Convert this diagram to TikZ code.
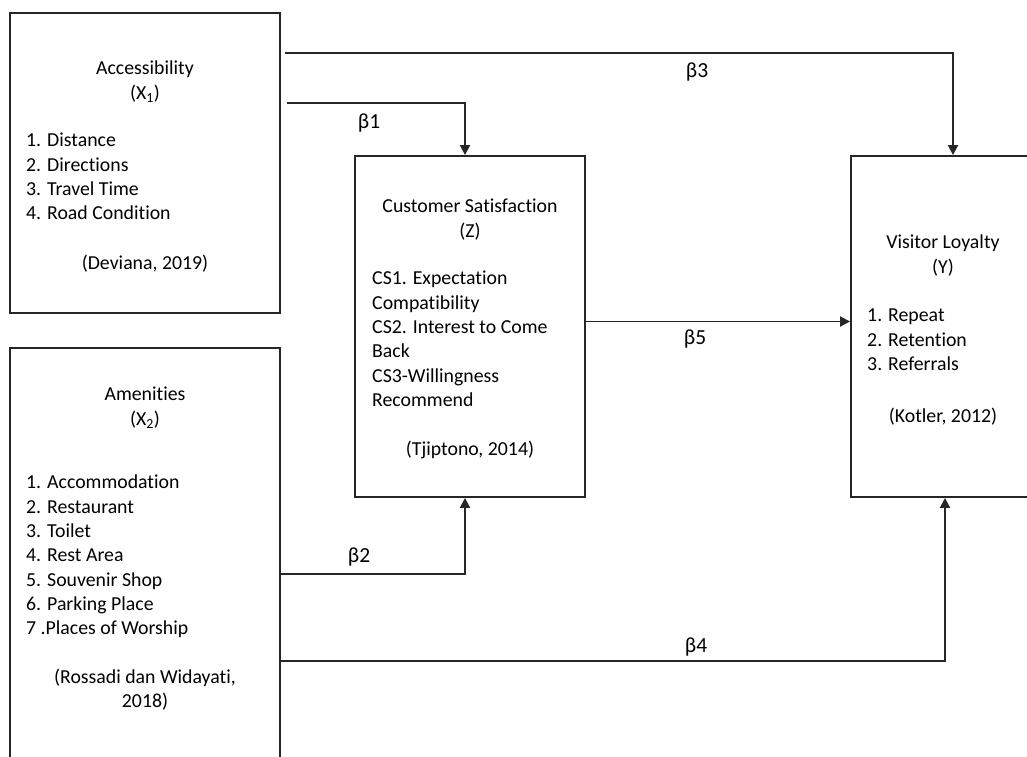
\documentclass[tikz,border=0pt]{standalone}
\usepackage{fontspec}
\setmainfont{Carlito}[Ligatures=NoCommon]
\usetikzlibrary{arrows.meta}
\newcommand{\bodyfont}{\fontsize{19.8}{24.3}\selectfont}
\tikzset{
  var box/.style={
    draw=black!85,
    line width=1.9pt,
    inner sep=0pt
  },
  path arrow/.style={
    -{Triangle[length=10pt, width=10pt]},
    line width=1.9pt,
    draw=black!85
  },
  box title/.style={
    align=center,
    anchor=north,
    inner sep=0pt,
    font=\bodyfont
  },
  item list/.style={
    align=left,
    anchor=north west,
    inner sep=0pt,
    font=\bodyfont
  },
  coef label/.style={
    inner sep=0pt,
    font=\fontsize{21.5}{24}\selectfont
  }
}

\begin{document}
\begin{tikzpicture}[x=1pt, y=-1pt]

  \useasboundingbox (0,0) rectangle (1027,756);
  \clip (0,0) rectangle (1027,756);

  %% ---- Accessibility (X1) ----
  \node[var box, minimum width=270pt, minimum height=300pt] (acc) at (145,163) {};
  \node[box title] (acc title) at (145,61) {Accessibility\\(X\textsubscript{1})};
  \node[item list] (acc list) at (26,133)
      {1. Distance\\2. Directions\\3. Travel Time\\4. Road Condition};
  \node[box title] (acc cite) at (145,255) {(Deviana, 2019)};

  %% ---- Amenities (X2), runs past the bottom edge ----
  \node[var box, minimum width=270pt, minimum height=452pt] (amen) at (145,574) {};
  \node[box title] (amen title) at (145,387) {Amenities\\(X\textsubscript{2})};
  \node[item list] (amen list) at (26,475)
      {1. Accommodation\\2. Restaurant\\3. Toilet\\4. Rest Area\\5. Souvenir Shop\\6. Parking Place\\7 .Places of Worship};
  \node[box title] (amen cite) at (145,669) {(Rossadi dan Widayati,\\2018)};

  %% ---- Customer Satisfaction (Z) ----
  \node[var box, minimum width=230pt, minimum height=341pt] (cs) at (470,326.5) {};
  \node[box title] (cs title) at (470,199) {Customer Satisfaction\\(Z)};
  \node[item list] (cs list) at (372,271)
      {CS1. Expectation\\Compatibility\\CS2. Interest to Come\\Back\\CS3-Willingness\\Recommend};
  \node[box title] (cs cite) at (470,441) {(Tjiptono, 2014)};

  %% ---- Visitor Loyalty (Y), cut by the right edge ----
  \node[var box, minimum width=184pt, minimum height=341pt] (vl) at (943,326.5) {};
  \node[box title] (vl title) at (943,235) {Visitor Loyalty\\(Y)};
  \node[item list] (vl list) at (867,309) {1. Repeat\\2. Retention\\3. Referrals};
  \node[box title] (vl cite) at (943,408) {(Kotler, 2012)};

  %% ---- paths ----
  \coordinate (b3 start) at (285,53);
  \coordinate (b1 start) at (287,103);
  \coordinate (b4 start) at (280,661);

  \draw[path arrow] (b3 start) -| ([xshift=10pt]vl.north);
  \draw[path arrow] (b1 start) -| ([xshift=-5pt]cs.north);
  \draw[path arrow] (amen.east) -| ([xshift=-5pt]cs.south);
  \draw[path arrow] (b4 start) -| ([xshift=2pt]vl.south);
  \draw[path arrow] ([yshift=5pt]cs.east) -- ([yshift=5pt]vl.west);

  % coefficients
  \node[coef label] (b1) at (369,123) {β1};
  \node[coef label] (b2) at (359,557) {β2};
  \node[coef label] (b3) at (697,72) {β3};
  \node[coef label] (b4) at (696,647) {β4};
  \node[coef label] (b5) at (695,339) {β5};

\end{tikzpicture}
\end{document}
